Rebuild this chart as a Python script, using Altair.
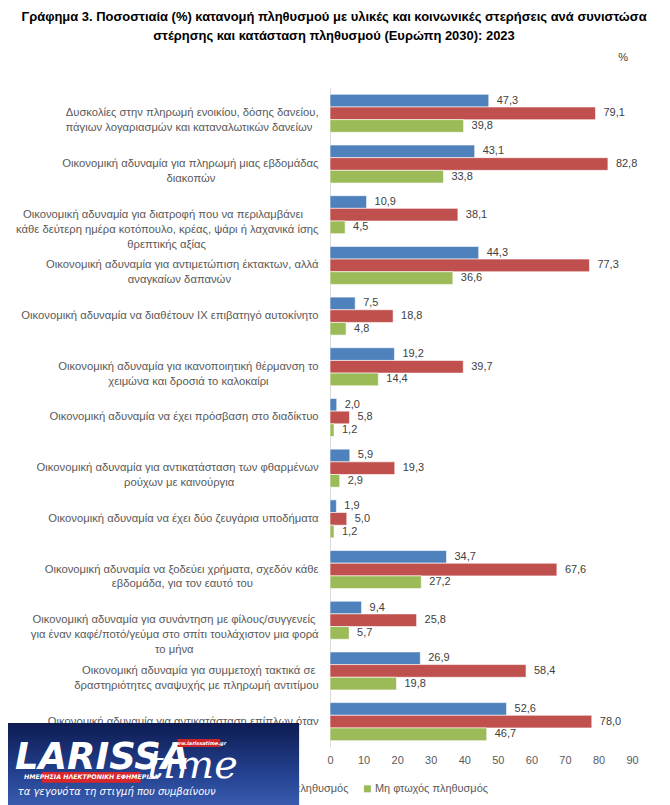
import altair as alt
import pandas as pd

categories = [
    "Δυσκολίες στην πληρωμή ενοικίου, δόσης δανείου,|πάγιων λογαριασμών και καταναλωτικών δανείων",
    "Οικονομική αδυναμία για πληρωμή  μιας εβδομάδας|διακοπών",
    "Οικονομική αδυναμία για διατροφή που να περιλαμβάνει|κάθε δεύτερη ημέρα κοτόπουλο, κρέας, ψάρι ή λαχανικά ίσης|θρεπτικής αξίας",
    "Οικονομική αδυναμία για αντιμετώπιση έκτακτων, αλλά|αναγκαίων δαπανών",
    "Οικονομική αδυναμία να διαθέτουν IX επιβατηγό αυτοκίνητο",
    "Οικονομική αδυναμία για ικανοποιητική θέρμανση το|χειμώνα και δροσιά το καλοκαίρι",
    "Οικονομική αδυναμία να έχει πρόσβαση στο διαδίκτυο",
    "Οικονομική αδυναμία για αντικατάσταση των φθαρμένων|ρούχων με καινούργια",
    "Οικονομική αδυναμία να έχει δύο ζευγάρια υποδήματα",
    "Οικονομική αδυναμία να ξοδεύει χρήματα, σχεδόν κάθε|εβδομάδα, για τον εαυτό του",
    "Οικονομική αδυναμία για συνάντηση με φίλους/συγγενείς|για έναν καφέ/ποτό/γεύμα στο σπίτι τουλάχιστον μια φορά|το μήνα",
    "Οικονομική αδυναμία για συμμετοχή τακτικά σε|δραστηριότητες αναψυχής με πληρωμή αντιτίμου",
    "Οικονομική αδυναμία για αντικατάσταση επίπλων όταν|φθαρούν",
]

series = ["Σύνολο πληθυσμού", "Φτωχός πληθυσμός", "Μη φτωχός πληθυσμός"]
colors = ["#4F81BD", "#C0504D", "#9BBB59"]

total = [47.3, 43.1, 10.9, 44.3, 7.5, 19.2, 2.0, 5.9, 1.9, 34.7, 9.4, 26.9, 52.6]
poor = [79.1, 82.8, 38.1, 77.3, 18.8, 39.7, 5.8, 19.3, 5.0, 67.6, 25.8, 58.4, 78.0]
nonpoor = [39.8, 33.8, 4.5, 36.6, 4.8, 14.4, 1.2, 2.9, 1.2, 27.2, 5.7, 19.8, 46.7]

x_ticks = [0, 10, 20, 30, 40, 50, 60, 70, 80, 90]

title_lines = [
    "Γράφημα 3. Ποσοστιαία (%) κατανομή πληθυσμού με υλικές και κοινωνικές στερήσεις ανά συνιστώσα",
    "στέρησης και κατάσταση πληθυσμού (Ευρώπη 2030): 2023",
]

# watermark texts (news-site logo over the lower-left corner)
logo_name = "LARISSA"
logo_time = "time"
logo_banner = "ΗΜΕΡΗΣΙΑ ΗΛΕΚΤΡΟΝΙΚΗ ΕΦΗΜΕΡΙΔΑ"
logo_url = "www.larissatime.gr"
logo_slogan = "τα γεγονότα τη στιγμή που συμβαίνουν"

FONT = "Liberation Sans"
TXT = "#595959"
LABEL_SIZE = 11.3


def text_em(s):
    """rough text width in em for Liberation Sans"""
    w = 0.0
    for ch in s:
        if ch in " ,.;:":
            w += 0.278
        elif ch in "ιίlIi/|!j":
            w += 0.23
        elif ch.isupper():
            w += 0.68
        else:
            w += 0.545
    return w


def centre_lines(label):
    # centre each line under the longest one (the axis aligns them right)
    lines = label.split("|")
    widths = [text_em(l) for l in lines]
    mw = max(widths)
    out = []
    for l, w in zip(lines, widths):
        n = int(round((mw - w) / 2 / 0.278))
        out.append(l + ("\u00a0" * n + "\u200b" if n > 0 else ""))
    return "|".join(out)


disp = {c: centre_lines(c) for c in categories}
disp_order = [disp[c] for c in categories]

rows = []
for vals, s in zip([total, poor, nonpoor], series):
    for c, v in zip(categories, vals):
        rows.append({"cat": disp[c], "series": s, "value": v})
df = pd.DataFrame(rows)

y_enc = alt.Y(
    "cat:N",
    sort=disp_order,
    scale=alt.Scale(paddingInner=0.25, paddingOuter=0.125),
    axis=alt.Axis(
        title=None,
        labelExpr="split(datum.label, '|')",
        labelFont=FONT,
        labelFontSize=LABEL_SIZE,
        labelColor=TXT,
        labelLimit=500,
        labelPadding=12,
        ticks=False,
        domainColor="#d9d9d9",
        labelLineHeight=15,
        zindex=0,
    ),
)
yoff = alt.YOffset("series:N", sort=series, scale=alt.Scale(paddingInner=0, paddingOuter=0))
x_enc = alt.X(
    "value:Q",
    scale=alt.Scale(domain=[0, 90], nice=False),
    axis=alt.Axis(
        title=None,
        values=x_ticks,
        labelFont=FONT,
        labelFontSize=11,
        labelColor=TXT,
        labelOverlap=False,
        labelFlush=False,
        grid=False,
        ticks=False,
        domain=False,
        labelPadding=8,
        zindex=0,
    ),
)

base = alt.Chart(df).encode(y=y_enc, yOffset=yoff, x=x_enc)

bars = base.mark_bar(stroke="white", strokeWidth=0.6).encode(
    color=alt.Color(
        "series:N",
        sort=series,
        scale=alt.Scale(domain=series, range=colors),
        legend=None,
    ),
)

labels = base.transform_calculate(
    lbl="replace(format(datum.value, '.1f'), '.', ',')"
).mark_text(align="left", dx=8, font=FONT, fontSize=11, color="#404040").encode(
    text="lbl:N"
)


def one_text(t, x, y, **kw):
    return alt.Chart(pd.DataFrame({"t": [t]})).mark_text(**kw).encode(
        x=alt.value(x), y=alt.value(y), text="t:N"
    )


def one_rect(x, x2, y, y2, **kw):
    return alt.Chart(pd.DataFrame({"a": [0]})).mark_rect(**kw).encode(
        x=alt.value(x), x2=alt.value(x2), y=alt.value(y), y2=alt.value(y2)
    )


pct = one_text("%", 294, -30, font=FONT, fontSize=11, color="#404040")

title1 = one_text(title_lines[0], 4, -71, font=FONT, fontSize=13, fontWeight="bold",
                  color="black", align="center", baseline="middle")
title2 = one_text(title_lines[1], 4, -52, font=FONT, fontSize=13, fontWeight="bold",
                  color="black", align="center", baseline="middle")

# manual legend (so the logo can sit on top of it, as in the reference)
LEG_FS = 11
LEG_Y = 703
legend_layers = []
item_w = [9 + text_em(s) * LEG_FS + 20 for s in series]
x0 = 34 - item_w[0] - item_w[1]
for s, col, w in zip(series, colors, item_w):
    legend_layers.append(one_rect(x0, x0 + 7, LEG_Y - 3.5, LEG_Y + 3.5, color=col))
    legend_layers.append(one_text(s, x0 + 11, LEG_Y, font=FONT, fontSize=LEG_FS, color=TXT,
                                  align="left", baseline="middle"))
    x0 += w

# logo overlay (lower-left), coordinates relative to plot origin
logo_bg = one_rect(
    -323, -31, 637, 720,
    color=alt.LinearGradient(
        gradient="linear", x1=0, x2=0, y1=0, y2=1,
        stops=[alt.GradientStop(color="#0e1c52", offset=0),
               alt.GradientStop(color="#23408e", offset=0.6),
               alt.GradientStop(color="#3a5db0", offset=1)],
    ),
)
logo_l = one_text(logo_name, -316, 683, font="DejaVu Sans", fontSize=37, fontWeight="bold",
                  fontStyle="italic", color="white", align="left", baseline="alphabetic")
logo_t = one_text(logo_time, -183, 692, font="DejaVu Serif", fontSize=40,
                  fontStyle="italic", color="white", align="left", baseline="alphabetic")
logo_bn = one_rect(-289, -190, 686, 697, color="#d7262c")
logo_bnt = one_text(logo_banner, -239.5, 691.5, font="DejaVu Sans", fontSize=6.3, fontWeight="bold",
                    fontStyle="italic", color="white", align="center", baseline="middle")
logo_url_bg = one_rect(-153, -110, 653, 661, color="#c8242a")
logo_url_t = one_text(logo_url, -131.5, 657, font="DejaVu Sans", fontSize=5, fontWeight="bold",
                      fontStyle="italic", color="white", align="center", baseline="middle")
logo_sl = one_text(logo_slogan, -214, 706, font="DejaVu Sans", fontSize=10,
                   fontStyle="italic", color="white", align="center", baseline="middle")

chart = alt.layer(
    bars, labels, pct, title1, title2, *legend_layers,
    logo_bg, logo_l, logo_t, logo_bn, logo_bnt, logo_url_bg, logo_url_t, logo_sl,
).properties(
    width=303,
    height=661,
    autosize="none",
    padding={"left": 323, "top": 79, "right": 30, "bottom": 62},
).configure_view(stroke=None)

chart.save("out.html", embed_options={"renderer": "svg", "actions": False})
